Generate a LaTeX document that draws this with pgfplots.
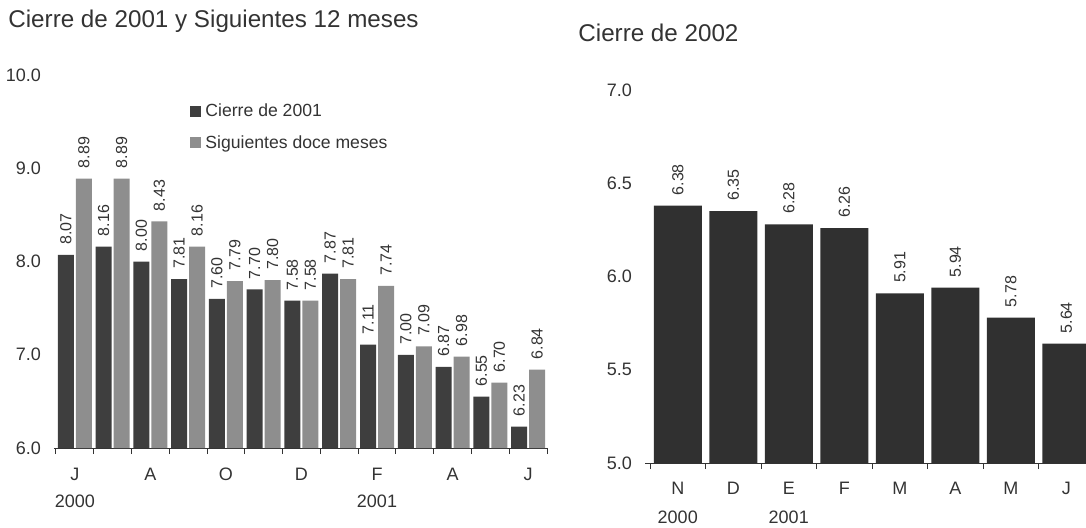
\documentclass[border=0pt]{standalone}
\usepackage{pgfplots}
\pgfplotsset{compat=1.18}
\usepackage{fontspec}
\setmainfont{Liberation Sans}
\definecolor{txt}{HTML}{333333}
\definecolor{cierre}{HTML}{3E3E3E}
\definecolor{sig}{HTML}{8E8E8E}
\definecolor{cdosmil}{HTML}{303030}

\pgfplotsset{
  scanbars/.style={
    scale only axis, ybar, clip=false,
    axis x line*=bottom, axis y line*=left,
    y axis line style={draw=none},
    ytick style={draw=none},
    x axis line style={txt, thin},
    xtick style={draw=txt, thin},
    tick align=outside, major tick length=3pt,
    tick label style={font=\fontsize{9}{11}\selectfont, text=txt},
    yticklabel style={/pgf/number format/.cd, fixed, fixed zerofill, precision=1, assume math mode=true},
    xticklabels={},
    nodes near coords,
    nodes near coords style={font=\fontsize{8}{9}\selectfont, text=txt, rotate=90, anchor=west,
      inner xsep=5pt, inner ysep=0pt,
      /pgf/number format/.cd, fixed, fixed zerofill, precision=2, assume math mode=true},
  }
}

\begin{document}
\begin{tikzpicture}
\useasboundingbox (0,0) rectangle (543pt,-263.5pt);

\node[anchor=base west, inner sep=0pt, font=\fontsize{12.1}{14}\selectfont, text=txt] at (4pt,-13.5pt) {Cierre de 2001 y Siguientes 12 meses};
\node[anchor=base west, inner sep=0pt, font=\fontsize{12.1}{14}\selectfont, text=txt] at (289pt,-20.5pt) {Cierre de 2002};

% panel izquierdo
\begin{axis}[scanbars,
  at={(27pt,-224pt)}, anchor=south west,
  width=246.5pt, height=186.5pt,
  xmin=0.45, xmax=13.5, ymin=6, ymax=10,
  ytick={6,7,8,9,10},
  xtick={0.5,1.5,...,13.5},
  extra x ticks={1,3,5,7,9,11,13},
  extra x tick labels={{J\\2000},A,O,D,{F\\2001},A,J},
  extra x tick style={major tick length=0pt,
    xticklabel style={align=center, font=\fontsize{9}{13.5}\selectfont, yshift=-6.5pt}},
  bar width=8pt, ybar=1pt,
  legend style={at={(0.276,0.935)}, anchor=north west, draw=none, fill=none,
    font=\fontsize{8.8}{10}\selectfont, text=txt, row sep=4pt, inner sep=0pt},
  legend cell align=left,
  legend image code/.code={\fill[#1] (0pt,-2.6pt) rectangle (5.5pt,2.9pt);},
]
\addplot[draw=none, fill=cierre] coordinates {
  (1,8.07) (2,8.16) (3,8.00) (4,7.81) (5,7.60) (6,7.70) (7,7.58)
  (8,7.87) (9,7.11) (10,7.00) (11,6.87) (12,6.55) (13,6.23)};
\addplot[draw=none, fill=sig] coordinates {
  (1,8.89) (2,8.89) (3,8.43) (4,8.16) (5,7.79) (6,7.80) (7,7.58)
  (8,7.81) (9,7.74) (10,7.09) (11,6.98) (12,6.70) (13,6.84)};
\legend{Cierre de 2001, Siguientes doce meses}
\end{axis}

% panel derecho
\begin{axis}[scanbars,
  at={(322.5pt,-231.5pt)}, anchor=south west,
  width=224.5pt, height=186.5pt,
  xmin=0.41, xmax=8.5, ymin=5, ymax=7,
  ytick={5,5.5,6,6.5,7},
  xtick={0.5,1.5,...,8.5},
  extra x ticks={1,2,3,4,5,6,7,8},
  extra x tick labels={{N\\2000},D,{E\\2001},F,M,A,M,J},
  extra x tick style={major tick length=0pt,
    xticklabel style={align=center, font=\fontsize{9}{14.5}\selectfont, yshift=-6pt}},
  bar width=24pt,
]
\addplot[draw=none, fill=cdosmil] coordinates {
  (1,6.38) (2,6.35) (3,6.28) (4,6.26) (5,5.91) (6,5.94) (7,5.78) (8,5.64)};
\end{axis}
\end{tikzpicture}
\end{document}
